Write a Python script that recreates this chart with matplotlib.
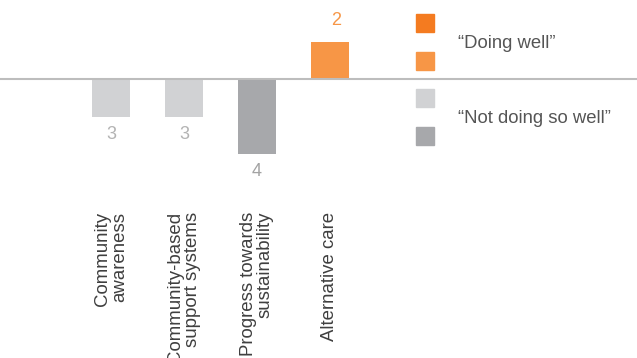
import matplotlib.pyplot as plt
from matplotlib.patches import Rectangle

plt.rcParams['font.family'] = ['Liberation Sans', 'DejaVu Sans']

# categories, bar levels (+ doing well / - not doing so well) and the printed counts
categories = ['Community\nawareness', 'Community-based\nsupport systems',
              'Progress towards\nsustainability', 'Alternative care']
levels = [-1, -1, -2, 1]
counts = [3, 3, 4, 2]
bar_colors = ['#D1D2D4', '#D1D2D4', '#A7A8AB', '#F79646']
count_colors = ['#B3B3B3', '#B3B3B3', '#A3A3A3', '#F79646']

legend_labels = ['\u201cDoing well\u201d', '\u201cNot doing so well\u201d']
legend_colors = ['#F47B20', '#F79646', '#D1D2D4', '#A7A8AB']

W, H = 637, 358
fig = plt.figure(figsize=(W / 100, H / 100), dpi=100)
ax = fig.add_axes([0, 0, 1, 1])
ax.axis('off')

step = 73.0   # px between bars
unit = 37.5   # px per level
x0, y0 = 111.0, 79.0   # first bar centre, baseline (px from top)
ax.set_xlim(-x0 / step, (W - x0) / step)
ax.set_ylim(-(H - y0) / unit, y0 / unit)

xs = list(range(len(categories)))
ax.bar(xs, levels, width=38 / step, color=bar_colors, zorder=2)
ax.axhline(0, color='#BDBDBD', lw=1.5, zorder=3)

for x, lv, c, col in zip(xs, levels, counts, count_colors):
    if lv < 0:
        ax.text(x, lv - 0.47, str(c), ha='center', va='center', fontsize=13, color=col)
    else:
        ax.text(x + 0.08, lv + 0.57, str(c), ha='center', va='center', fontsize=13, color=col)

for x, cat in zip(xs, categories):
    ax.text(x, (y0 - 212) / unit, cat, rotation=90, ha='center', va='top',
            multialignment='right', fontsize=13.4, color='#3F3F3F', linespacing=1.0)

# legend squares drawn in pixel space
sq_tops = [14, 52, 89, 127]
for top, col in zip(sq_tops, legend_colors):
    fig.add_artist(Rectangle((416 / W, 1 - (top + 18) / H), 18 / W, 18 / H,
                             transform=fig.transFigure, color=col))
fig.text(458 / W, 1 - 44 / H, legend_labels[0], ha='left', va='center',
         fontsize=13.3, color='#555555')
fig.text(458 / W, 1 - 118 / H, legend_labels[1], ha='left', va='center',
         fontsize=13.3, color='#555555')

fig.savefig('out.png', dpi=100)
